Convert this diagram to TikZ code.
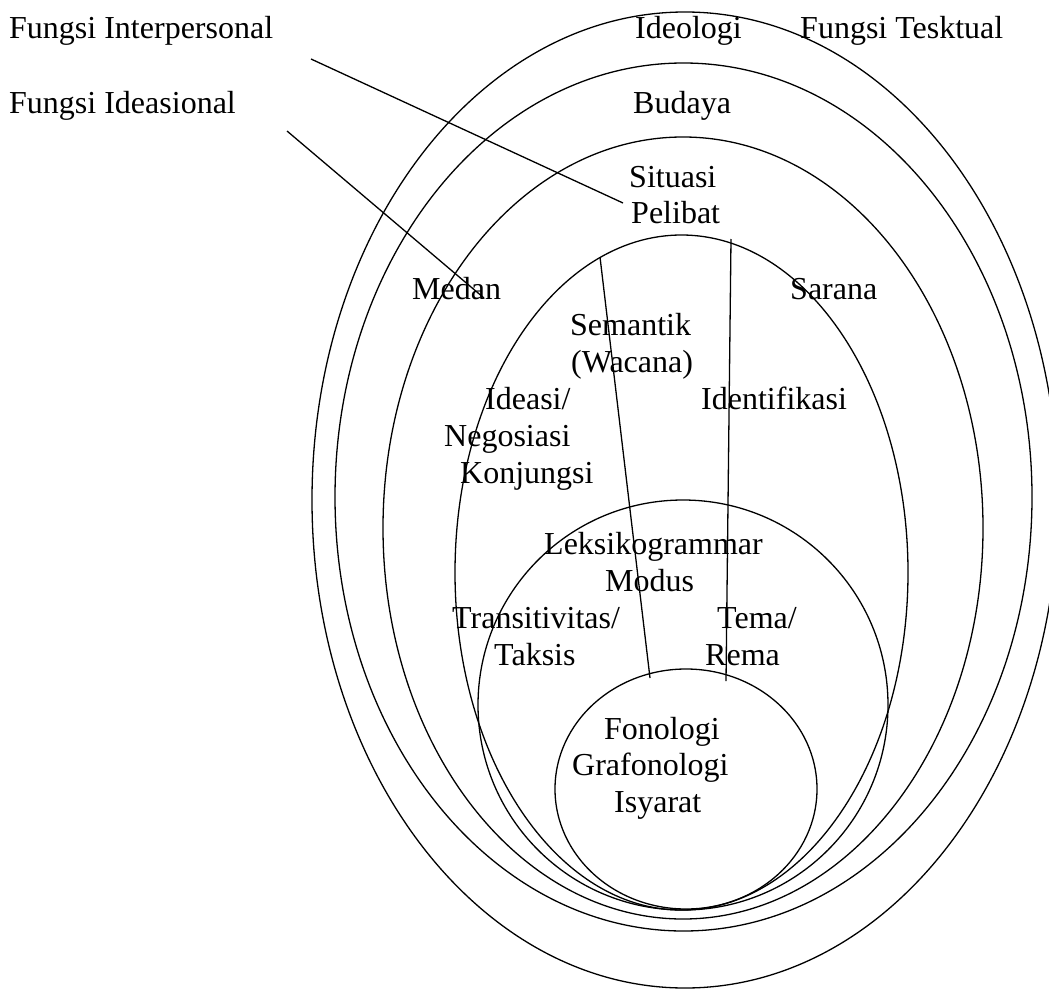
\documentclass[tikz,border=0pt]{standalone}
\usepackage{fontspec}
\setmainfont{Liberation Serif}
\begin{document}
\begin{tikzpicture}[x=1pt,y=-1pt,
  ring/.style={line width=1.3pt},
  link/.style={line width=1.3pt},
  lbl/.style={anchor=base west, inner sep=0pt, font=\fontsize{32}{36.8}\selectfont}]
\useasboundingbox (0,0) rectangle (1049,990);
\clip (0,0) rectangle (1049,990);
\fill[white] (0,0) rectangle (1049,990);

% nested strata, outermost first
\draw[ring] (685,500) ellipse [x radius=373pt, y radius=488pt];   % ideologi
\draw[ring] (683.5,497) ellipse [x radius=348.5pt, y radius=434pt]; % budaya
\draw[ring] (683,528) ellipse [x radius=300pt, y radius=391pt];   % situasi
\draw[ring] (681.5,572.5) ellipse [x radius=226.5pt, y radius=337.5pt]; % semantik
\draw[ring] (683,705) ellipse [x radius=205pt, y radius=205pt];   % leksikogrammar
\draw[ring] (686,789) ellipse [x radius=131pt, y radius=120pt];   % fonologi

% labels
\node[lbl] (fip)  at (9,39)    {Fungsi Interpersonal};
\node[lbl] (fid)  at (9,113)   {Fungsi Ideasional};
\node[lbl] (ideo) at (635,39)  {Ideologi};
\node[lbl] (ftk)  at (800,39)  {Fungsi Tesktual};
\node[lbl] (bud)  at (633,113) {Budaya};
\node[lbl] (sit)  at (629,187) {Situasi};
\node[lbl] (pel)  at (631,223) {Pelibat};
\node[lbl] (med)  at (412,299) {Medan};
\node[lbl] (sar)  at (790,299) {Sarana};
\node[lbl] (sem)  at (570,335) {Semantik};
\node[lbl] (wac)  at (571,372) {(Wacana)};
\node[lbl] (ids)  at (485,409) {Ideasi/};
\node[lbl] (idf)  at (701,409) {Identifikasi};
\node[lbl] (neg)  at (444,446) {Negosiasi};
\node[lbl] (kon)  at (460,483) {Konjungsi};
\node[lbl] (lek)  at (544,554) {Leksikogrammar};
\node[lbl] (mod)  at (605,591) {Modus};
\node[lbl] (tra)  at (452,628) {Transitivitas/};
\node[lbl] (tem)  at (717,628) {Tema/};
\node[lbl] (tak)  at (494,665) {Taksis};
\node[lbl] (rem)  at (705,665) {Rema};
\node[lbl] (fon)  at (604,739) {Fonologi};
\node[lbl] (gra)  at (572,775) {Grafonologi};
\node[lbl] (isy)  at (614,812) {Isyarat};

% connector end points
\coordinate (ipA) at (311,59);
\coordinate (ipB) at (623,203);
\coordinate (idA) at (287,131);
\coordinate (idB) at (484,298);
\coordinate (slA) at (600,257);
\coordinate (slB) at (650,678);
\coordinate (srA) at (731,239);
\coordinate (srB) at (726,681);

\draw[link] (ipA) -- (ipB);
\draw[link] (idA) -- (idB);
\draw[link] (slA) -- (slB);
\draw[link] (srA) -- (srB);
\end{tikzpicture}
\end{document}
